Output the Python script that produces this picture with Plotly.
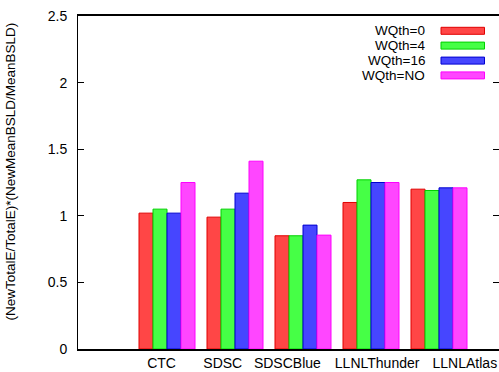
import plotly.graph_objects as go

# Systems and normalised energy*slowdown values per WQth setting
systems = ["CTC", "SDSC", "SDSCBlue", "LLNLThunder", "LLNLAtlas"]
series_names = ["WQth=0", "WQth=4", "WQth=16", "WQth=NO"]
wq0 = [1.02, 0.99, 0.85, 1.10, 1.20]
wq4 = [1.05, 1.05, 0.85, 1.27, 1.19]
wq16 = [1.02, 1.17, 0.93, 1.25, 1.21]
wqno = [1.25, 1.41, 0.855, 1.25, 1.21]
y_ticks = [0, 0.5, 1, 1.5, 2, 2.5]

fills = ["#ff4646", "#46ff46", "#4646ff", "#ff46ff"]
edges = ["#e00000", "#00d000", "#0000d0", "#ff00ff"]

W, H = 499, 372
ML, MT, MB, MR = 78, 16, 23, 0
PW, PH = W - ML - MR, H - MT - MB
FONT = "Liberation Sans, Arial, Helvetica, sans-serif"

xpos = list(range(len(systems)))
fig = go.Figure()
for name, vals, fc, ec in zip(series_names, [wq0, wq4, wq16, wqno], fills, edges):
    fig.add_trace(go.Bar(
        x=xpos, y=vals, name=name,
        marker=dict(color=fc, line=dict(color=ec, width=1)),
        showlegend=False,
    ))

# Label placement along the category axis (gnuplot-style text offsets)
label_shift = [-0.08, -0.18, -0.23, 0.09, 0.38]
tickvals = [p + s for p, s in zip(xpos, label_shift)]

px_per_unit = 68.0
x0 = -(167 - 78) / px_per_unit
x1 = x0 + PW / px_per_unit

fig.update_layout(
    width=W, height=H,
    margin=dict(l=ML, r=MR, t=MT, b=MB, pad=0),
    paper_bgcolor="white", plot_bgcolor="white",
    barmode="group", bargap=0.1765, bargroupgap=0,
    font=dict(family=FONT, size=14, color="black"),
    xaxis=dict(
        range=[x0, x1], tickvals=tickvals, ticktext=systems,
        showgrid=False, zeroline=False, showline=True, linecolor="black",
        linewidth=1.5, mirror=True, ticks="", ticklen=0,
        tickfont=dict(size=14, family=FONT, color="black"),
    ),
    yaxis=dict(
        range=[0, 2.5], tickvals=y_ticks,
        showgrid=False, zeroline=False, showline=True, linecolor="black",
        linewidth=1, mirror="ticks", ticks="inside", ticklen=6,
        tickcolor="black", ticklabelstandoff=7,
        tickfont=dict(size=14, family=FONT, color="black"),
    ),
)

# Y axis title
fig.add_annotation(
    text="(NewTotalE/TotalE)*(NewMeanBSLD/MeanBSLD)",
    xref="paper", yref="paper",
    x=(9.5 - ML) / PW, y=(349 - 172) / PH,
    textangle=-90, showarrow=False, xanchor="center", yanchor="middle",
    font=dict(size=13.5, family=FONT, color="black"),
)

# Key in the top-right corner: label on the left, swatch on the right
row_y = [30.8, 45.6, 60.6, 75.4]
for name, fc, ec, yc in zip(series_names, fills, edges, row_y):
    yp = (349 - yc) / PH
    fig.add_annotation(
        text=name, xref="paper", yref="paper",
        x=(427 - ML) / PW, y=yp, xanchor="right", yanchor="middle",
        showarrow=False, font=dict(size=13.5, family=FONT, color="black"),
    )
    fig.add_shape(
        type="rect", xref="paper", yref="paper",
        x0=(441 - ML) / PW, x1=(484.5 - ML) / PW,
        y0=(349 - (yc - 3.5)) / PH, y1=(349 - (yc + 3.5)) / PH,
        fillcolor=fc, line=dict(color=ec, width=1),
    )

fig.write_html("out.html")
